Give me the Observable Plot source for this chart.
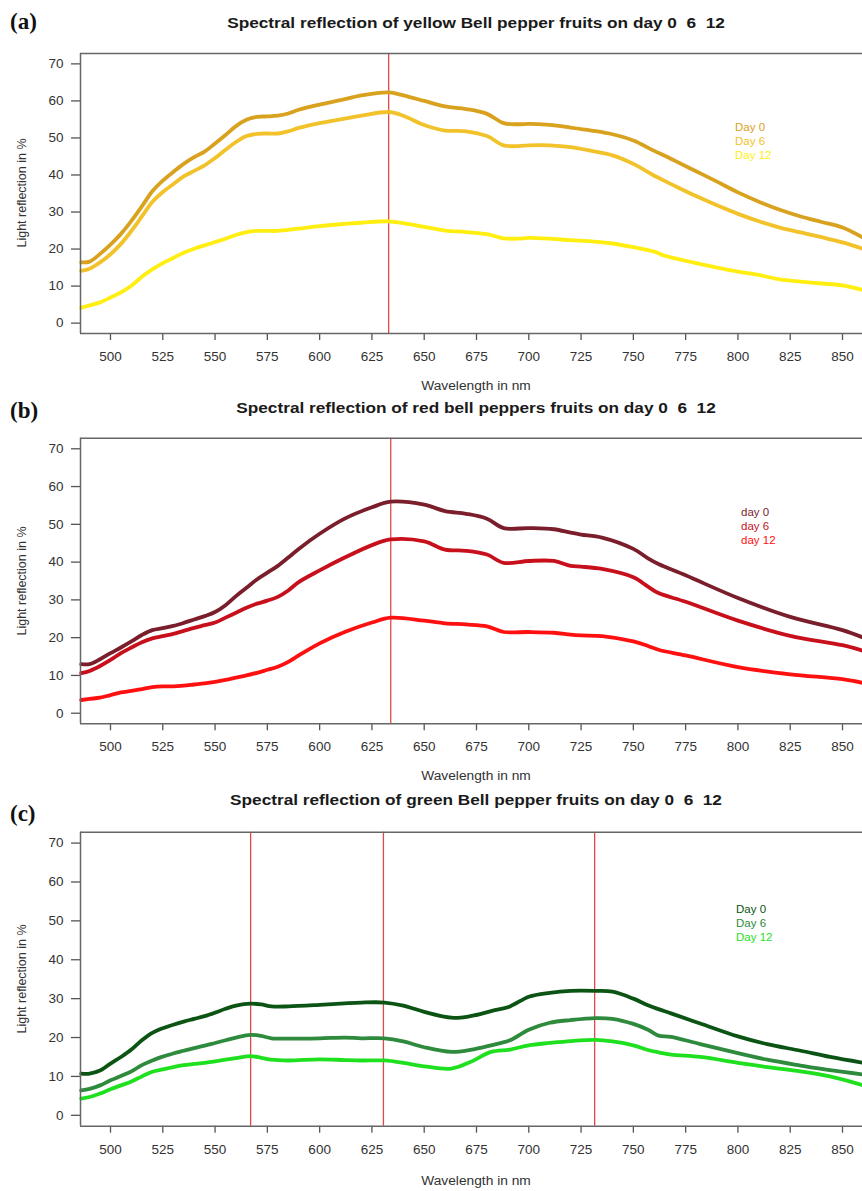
<!DOCTYPE html>
<html>
<head>
<meta charset="utf-8">
<script src="https://cdn.jsdelivr.net/npm/d3@7"></script>
<script src="https://cdn.jsdelivr.net/npm/@observablehq/plot@0.6"></script>
<style>
  html, body { margin: 0; padding: 0; background: #fff; }
  #page { position: relative; width: 862px; height: 1191px; overflow: hidden; font-family: "Liberation Sans", Arial, sans-serif; }
  .abs { position: absolute; white-space: pre; }
  .c { transform: translate(-50%, -50%); }
  .title { font-weight: bold; font-size: 14px; color: #1a1a1a; transform: translate(-50%, -50%) scaleX(1.23); }
  .tag { font-family: "Liberation Serif", "DejaVu Serif", serif; font-size: 23px; font-weight: bold; color: #111; transform: translate(0, -50%); }
  .ylab { font-size: 12.5px; color: #333; transform: translate(-50%, -50%) rotate(-90deg); }
  .xlab { font-size: 12.5px; color: #333; transform: translate(-50%, -50%) scaleX(1.1); }
  .leg { font-size: 11.5px; line-height: 14px; transform: translate(0, -50%); }
  .panel { position: absolute; left: 0; }
</style>
</head>
<body>
<div id="page"></div>
<script>
// ---------- shared axes ----------
const xDomain = [485.66, 859.56];
const yDomain = [-2.8, 72.8];
const xTicks = [500, 525, 550, 575, 600, 625, 650, 675, 700, 725, 750, 775, 800, 825, 850];
const yTicks = [0, 10, 20, 30, 40, 50, 60, 70];

// ---------- (a) yellow ----------
const titleA = "Spectral reflection of yellow Bell pepper fruits on day 0  6  12";
const legendA = ["Day 0", "Day 6", "Day 12"];
const colorsA = ["#D9A21E", "#F2C22A", "#FFEE10"];
const redA = [633];
const wlA = [486, 490, 495, 500, 505, 510, 515, 520, 525, 530, 535, 540, 545, 550, 555, 560, 565, 570, 575, 580, 585, 590, 600, 610, 620, 633, 640, 650, 660, 670, 680, 688, 695, 700, 710, 720, 730, 740, 750, 760, 765, 770, 780, 790, 800, 810, 820, 830, 840, 850, 860];
const aDay0 = [16.4, 16.6, 18.7, 21.2, 24.1, 27.6, 31.5, 35.6, 38.5, 40.8, 43.0, 44.8, 46.3, 48.5, 50.8, 53.2, 54.9, 55.7, 55.8, 56.0, 56.6, 57.6, 59.0, 60.2, 61.5, 62.3, 61.5, 60.0, 58.5, 57.8, 56.5, 54.0, 53.7, 53.8, 53.5, 52.8, 52.0, 51.0, 49.3, 46.5, 45.2, 43.8, 41.0, 38.2, 35.3, 32.8, 30.6, 28.8, 27.3, 25.8, 23.0];
const aDay6 = [14.1, 14.7, 16.4, 18.6, 21.4, 24.9, 28.8, 32.7, 35.4, 37.5, 39.6, 41.1, 42.6, 44.6, 46.8, 48.9, 50.5, 51.1, 51.2, 51.2, 51.8, 52.7, 54.0, 55.0, 56.0, 57.0, 56.0, 53.5, 52.0, 51.8, 50.5, 48.0, 47.8, 48.0, 48.0, 47.5, 46.5, 45.3, 43.0, 39.8, 38.4, 37.0, 34.3, 31.8, 29.5, 27.5, 25.8, 24.5, 23.2, 21.8, 20.0];
const aDay12 = [4.2, 4.8, 5.6, 6.9, 8.3, 10.1, 12.5, 14.5, 16.2, 17.6, 19.0, 20.1, 21.0, 21.9, 22.8, 23.8, 24.6, 24.9, 24.9, 24.9, 25.2, 25.5, 26.2, 26.7, 27.1, 27.5, 27.0, 26.0, 25.0, 24.6, 24.0, 22.9, 22.8, 23.0, 22.8, 22.4, 22.1, 21.5, 20.5, 19.3, 18.2, 17.5, 16.2, 15.0, 13.9, 13.0, 11.8, 11.2, 10.7, 10.2, 8.9];

// ---------- (b) red ----------
const titleB = "Spectral reflection of red bell peppers fruits on day 0  6  12";
const legendB = ["day 0", "day 6", "day 12"];
const colorsB = ["#7A1E2C", "#C8101C", "#FF1010"];
const redB = [634];
const wlB = [486, 490, 495, 500, 505, 510, 515, 520, 525, 530, 535, 540, 545, 550, 555, 560, 565, 570, 575, 580, 585, 590, 600, 612, 625, 634, 650, 660, 670, 680, 688, 700, 712, 720, 725, 735, 750, 757, 762, 775, 800, 825, 850, 860];
const bDay0 = [13.0, 13.0, 14.3, 15.9, 17.4, 19.0, 20.7, 22.0, 22.5, 23.1, 23.9, 24.8, 25.7, 26.8, 28.6, 31.0, 33.2, 35.4, 37.2, 39.0, 41.2, 43.5, 47.5, 51.5, 54.5, 56.0, 55.2, 53.5, 52.8, 51.5, 49.0, 49.0, 48.7, 47.8, 47.3, 46.5, 43.5, 41.0, 39.5, 36.5, 30.5, 25.5, 22.0, 20.0];
const bDay6 = [10.6, 11.2, 12.5, 14.1, 15.9, 17.4, 18.8, 19.8, 20.4, 21.0, 21.8, 22.6, 23.3, 24.0, 25.3, 26.6, 27.9, 29.0, 29.8, 30.8, 32.5, 34.7, 37.8, 41.2, 44.5, 46.0, 45.5, 43.3, 43.0, 42.0, 39.8, 40.3, 40.3, 39.0, 38.8, 38.2, 36.0, 33.5, 31.8, 29.5, 24.5, 20.5, 18.0, 16.5];
const bDay12 = [3.5, 3.8, 4.1, 4.8, 5.5, 5.9, 6.4, 6.9, 7.1, 7.1, 7.3, 7.6, 7.9, 8.3, 8.8, 9.4, 10.0, 10.7, 11.5, 12.3, 13.6, 15.3, 18.5, 21.5, 24.0, 25.3, 24.5, 23.8, 23.5, 23.0, 21.5, 21.5, 21.3, 20.8, 20.6, 20.4, 19.0, 17.8, 16.8, 15.3, 12.2, 10.3, 9.0, 8.0];

// ---------- (c) green ----------
const titleC = "Spectral reflection of green Bell pepper fruits on day 0  6  12";
const legendC = ["Day 0", "Day 6", "Day 12"];
const colorsC = ["#0B5414", "#2E8A3C", "#1FE01F"];
const redC = [567, 630.5, 731.5];
const wlC = [486, 490, 495, 500, 505, 510, 515, 520, 525, 530, 535, 540, 545, 550, 555, 560, 567, 572, 577, 585, 600, 612, 620, 631, 640, 650, 663, 672, 682, 691, 700, 710, 720, 732, 740, 750, 757, 762, 768, 782, 800, 814, 830, 844, 860];
const cDay0 = [10.7, 10.7, 11.5, 13.3, 15.0, 16.9, 19.3, 21.2, 22.4, 23.3, 24.1, 24.8, 25.5, 26.4, 27.4, 28.2, 28.7, 28.5, 28.0, 28.0, 28.4, 28.8, 29.0, 29.0, 28.2, 26.6, 25.1, 25.5, 26.8, 28.0, 30.5, 31.5, 32.0, 32.0, 31.8, 30.0, 28.3, 27.3, 26.2, 23.6, 20.3, 18.3, 16.6, 15.0, 13.5];
const cDay6 = [6.4, 6.8, 7.7, 9.0, 10.1, 11.3, 12.9, 14.1, 15.1, 15.9, 16.6, 17.3, 17.9, 18.6, 19.3, 20.0, 20.7, 20.4, 19.8, 19.7, 19.8, 20.0, 19.8, 19.8, 19.0, 17.5, 16.3, 16.8, 18.0, 19.3, 22.0, 23.8, 24.5, 25.0, 24.8, 23.5, 22.0, 20.5, 20.2, 18.3, 16.0, 14.3, 12.8, 11.6, 10.5];
const cDay12 = [4.3, 4.7, 5.6, 6.7, 7.7, 8.7, 10.0, 11.2, 11.8, 12.4, 12.9, 13.2, 13.5, 13.9, 14.3, 14.7, 15.2, 14.8, 14.3, 14.1, 14.4, 14.2, 14.1, 14.1, 13.5, 12.6, 12.0, 13.7, 16.3, 16.9, 18.0, 18.6, 19.1, 19.4, 19.0, 18.0, 16.8, 16.2, 15.6, 15.0, 13.5, 12.4, 11.3, 10.0, 7.7];

// ---------- layout (page px) ----------
const panels = [
  {top: 0,   height: 395, mt: 53,   mb: 62,   tag: "(a)", tagY: 22,  title: titleA, titleY: 23,  xlabY: 386,  wl: wlA, series: [aDay0, aDay6, aDay12], colors: colorsA, legend: legendA, legX: 735, legY: 141, red: redA},
  {top: 395, height: 395, mt: 42.7, mb: 66.7, tag: "(b)", tagY: 411, title: titleB, titleY: 408, xlabY: 776,  wl: wlB, series: [bDay0, bDay6, bDay12], colors: colorsB, legend: legendB, legX: 741, legY: 526, red: redB},
  {top: 790, height: 401, mt: 41.7, mb: 65.3, tag: "(c)", tagY: 814, title: titleC, titleY: 800, xlabY: 1181, wl: wlC, series: [cDay0, cDay6, cDay12], colors: colorsC, legend: legendC, legX: 736, legY: 923, red: redC}
];

const page = document.getElementById("page");
function addText(txt, cls, left, top, extra) {
  const d = document.createElement("div");
  d.className = "abs " + cls;
  d.textContent = txt;
  d.style.left = left + "px";
  d.style.top = top + "px";
  if (extra) Object.assign(d.style, extra);
  page.appendChild(d);
  return d;
}

for (const p of panels) {
  const lineMarks = p.series.map((vals, i) =>
    Plot.line(p.wl.map((w, j) => [w, vals[j]]), {
      stroke: p.colors[i], strokeWidth: 3.8, curve: "catmull-rom", strokeLinejoin: "round"
    })
  ).reverse();

  const chart = Plot.plot({
    width: 862,
    height: p.height,
    marginLeft: 80,
    marginRight: 0,
    marginTop: p.mt,
    marginBottom: p.mb,
    style: {fontFamily: "Liberation Sans, Arial, sans-serif", fontSize: "13.5px", color: "#333", background: "transparent", overflow: "visible"},
    x: {domain: xDomain},
    y: {domain: yDomain},
    marks: [
      Plot.axisX({ticks: xTicks, tickSize: 7, tickPadding: 11, label: null, stroke: "#555", strokeWidth: 1.3}),
      Plot.axisY({ticks: yTicks, tickSize: 9, tickPadding: 8, label: null, stroke: "#555", strokeWidth: 1.3}),
      Plot.ruleX(p.red, {stroke: "#E2474A", strokeWidth: 1.3}),
      ...lineMarks,
      Plot.ruleX([xDomain[0]], {stroke: "#666", strokeWidth: 1.5}),
      Plot.ruleY(yDomain, {stroke: "#666", strokeWidth: 1.5})
    ]
  });
  const wrap = document.createElement("div");
  wrap.className = "panel";
  wrap.style.top = p.top + "px";
  wrap.appendChild(chart);
  page.appendChild(wrap);

  addText(p.tag, "tag", 10, p.tagY);
  addText(p.title, "title", 476, p.titleY);
  addText("Wavelength in nm", "xlab", 476, p.xlabY);
  const plotMid = p.top + p.mt + (p.height - p.mt - p.mb) / 2;
  addText("Light reflection in %", "ylab", 22, plotMid);
  const leg = addText("", "leg", p.legX, p.legY);
  p.legend.forEach((s, i) => {
    const r = document.createElement("div");
    r.textContent = s;
    r.style.color = p.colors[i];
    leg.appendChild(r);
  });
}
</script>
</body>
</html>
